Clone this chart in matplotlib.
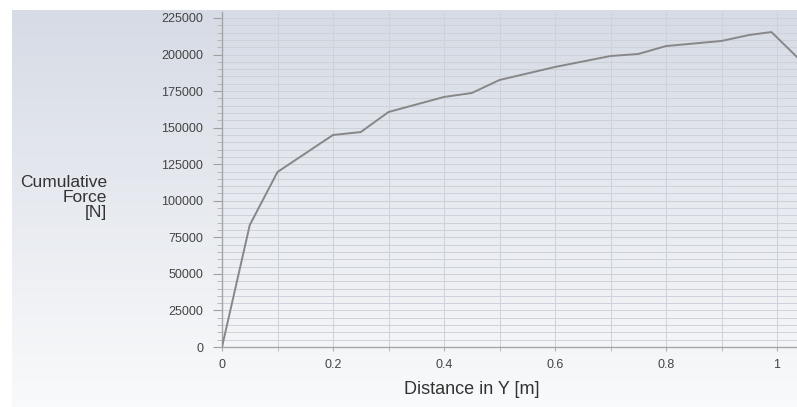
import matplotlib
matplotlib.use("Agg")
import matplotlib.pyplot as plt
import numpy as np
from matplotlib.ticker import MultipleLocator, FuncFormatter

plt.rcParams["font.family"] = ["Liberation Sans", "DejaVu Sans"]

# 数据：累积力曲线
distance_y = [0, 0.05, 0.1, 0.2, 0.25, 0.3, 0.4, 0.45, 0.5, 0.6,
              0.7, 0.75, 0.8, 0.9, 0.95, 0.99, 1.036]
cumulative_force = [0, 83400, 119700, 145000, 147000, 160700, 171000, 173700, 182600, 191500,
                    199000, 200400, 205800, 209300, 213400, 215400, 198300]
x_ticks = [0, 0.2, 0.4, 0.6, 0.8, 1]
y_ticks = [0, 25000, 50000, 75000, 100000, 125000, 150000, 175000, 200000, 225000]

W, H = 797, 407
fig = plt.figure(figsize=(W / 100, H / 100), dpi=100)
fig.patch.set_facecolor("white")

# 背景渐变（上灰蓝、下近白）
bg = fig.add_axes([0, 0, 1, 1], zorder=-1)
bg.set_xlim(0, W)
bg.set_ylim(H, 0)
bg.axis("off")
top = np.array([214, 219, 229]) / 255
bot = np.array([249, 250, 251]) / 255
t = np.linspace(0, 1, 256)[:, None]
grad = (top * (1 - t) + bot * t)[:, None, :]
bg.imshow(grad, extent=[12, W, H, 10], aspect="auto", interpolation="bilinear")

x0, x1 = 222, 797
y_bottom, y_top = 347, 12
ax = fig.add_axes([x0 / W, (H - y_bottom) / H, (x1 - x0) / W, (y_bottom - y_top) / H])
ax.patch.set_alpha(0)

ax.plot(distance_y, cumulative_force, color="#878787", lw=1.4, zorder=3)

px_per_unit = 555.0
ax.set_xlim(0, (x1 - x0) / px_per_unit)
ax.set_ylim(0, (y_bottom - y_top) / 329.0 * 225000)

ax.set_xticks(x_ticks)
ax.xaxis.set_minor_locator(MultipleLocator(0.1))
ax.set_yticks(y_ticks)
ax.yaxis.set_minor_locator(MultipleLocator(5000))
ax.xaxis.set_major_formatter(FuncFormatter(lambda v, p: f"{v:g}"))

ax.grid(which="both", axis="both", color="#cdd1d9", lw=0.7, zorder=0)
ax.set_axisbelow(True)

for s in ["top", "right"]:
    ax.spines[s].set_visible(False)
for s in ["left", "bottom"]:
    ax.spines[s].set_color("#a5a5a5")
    ax.spines[s].set_linewidth(1.0)

ax.tick_params(axis="y", which="major", length=6.5, width=0.8, color="#a0a0a0",
               labelsize=9, labelcolor="#444444", pad=7)
ax.tick_params(axis="y", which="minor", length=3.5, width=0.6, color="#b0b0b0")
ax.tick_params(axis="x", which="major", length=3, width=0.8, color="#b0b0b0",
               labelsize=9, labelcolor="#444444", pad=6)
ax.tick_params(axis="x", which="minor", length=3, width=0.6, color="#b0b0b0")

fig.text(472 / W, 1 - 390 / H, "Distance in Y [m]", ha="center", va="center",
         fontsize=13, color="#333333")
fig.text(107 / W, 1 - 197 / H, "Cumulative\nForce\n[N]", ha="right", va="center",
         fontsize=12.5, color="#333333", linespacing=1.0, multialignment="right")

fig.savefig("out.png", dpi=100)
